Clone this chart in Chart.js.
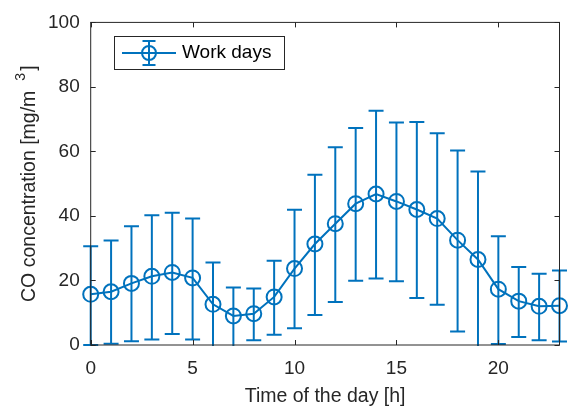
<!DOCTYPE html>
<html>
<head>
<meta charset="utf-8">
<script src="https://cdn.jsdelivr.net/npm/chart.js@4.4.1/dist/chart.umd.min.js"></script>
<style>
  html, body { margin: 0; padding: 0; background: #fff; }
  #grafico { display: block; }
</style>
</head>
<body>
<canvas id="grafico" width="569" height="416"></canvas>
<script>
// hora del dia y concentracion media de CO (dias laborables) con limites de la barra de error
const horas = [0, 1, 2, 3, 4, 5, 6, 7, 8, 9, 10, 11, 12, 13, 14, 15, 16, 17, 18, 19, 20, 21, 22, 23];
const mediaCO = [15.7, 16.5, 19.1, 21.3, 22.5, 20.8, 12.6, 9.0, 9.7, 14.9, 23.7, 31.3,
                 37.6, 43.8, 46.8, 44.5, 42.0, 39.2, 32.5, 26.5, 17.3, 13.6, 12.0, 12.2];
const limSup = [30.6, 32.4, 36.8, 40.2, 41.0, 39.2, 25.6, 17.8, 17.5, 26.1, 41.9, 52.8,
                61.3, 67.3, 72.6, 69.0, 69.1, 65.6, 60.3, 53.8, 33.7, 24.2, 22.1, 23.1];
const limInf = [0.0, 0.4, 1.2, 1.7, 3.4, 1.7, -0.6, -1.5, 1.5, 3.2, 5.2, 9.3,
                13.3, 19.9, 20.6, 19.8, 14.6, 12.5, 4.2, -0.8, 0.3, 2.5, 1.5, 1.1];
const ticksX = [0, 5, 10, 15, 20];
const ticksY = [0, 20, 40, 60, 80, 100];

const AZUL = '#0072BD';
const GRIS = '#262626';
const FUENTE = '"Liberation Sans", Arial, Helvetica, sans-serif';
const TAM = 19;       // etiquetas de marcas y leyenda
const TAM_TIT = 19.5; // titulos de ejes

// barras de error verticales con tapas
const barrasError = {
    id: 'barrasError',
    beforeDatasetsDraw(chart) {
        const { ctx, chartArea: a, scales: { x, y } } = chart;
        ctx.save();
        ctx.beginPath();
        ctx.rect(a.left - 10, a.top - 10, a.right - a.left + 20, a.bottom - a.top + 11);
        ctx.clip();
        ctx.strokeStyle = AZUL;
        ctx.lineWidth = 2;
        horas.forEach((h, i) => {
            const px = x.getPixelForValue(h);
            const y1 = y.getPixelForValue(limSup[i]);
            const y2 = y.getPixelForValue(limInf[i]);
            ctx.beginPath();
            ctx.moveTo(px, y1); ctx.lineTo(px, y2);
            ctx.moveTo(px - 7.5, y1); ctx.lineTo(px + 7.5, y1);
            ctx.moveTo(px - 7.5, y2); ctx.lineTo(px + 7.5, y2);
            ctx.stroke();
        });
        ctx.restore();
    }
};

// marco de los ejes, marcas hacia dentro, titulos y leyenda
const marco = {
    id: 'marco',
    afterDraw(chart) {
        const { ctx, chartArea: a, scales: { x, y } } = chart;
        ctx.save();
        ctx.strokeStyle = GRIS;
        ctx.lineWidth = 1;
        ctx.strokeRect(a.left, a.top, a.right - a.left, a.bottom - a.top);
        ctx.beginPath();
        x.ticks.forEach(t => {
            const px = Math.round(x.getPixelForValue(t.value)) + 0.5;
            ctx.moveTo(px, a.bottom); ctx.lineTo(px, a.bottom - 5);
            ctx.moveTo(px, a.top); ctx.lineTo(px, a.top + 5);
        });
        y.ticks.forEach(t => {
            const py = Math.round(y.getPixelForValue(t.value)) + 0.5;
            ctx.moveTo(a.left, py); ctx.lineTo(a.left + 5, py);
            ctx.moveTo(a.right, py); ctx.lineTo(a.right - 5, py);
        });
        ctx.stroke();

        // titulo eje x
        ctx.fillStyle = GRIS;
        ctx.font = TAM_TIT + 'px ' + FUENTE;
        ctx.textAlign = 'center';
        ctx.textBaseline = 'middle';
        ctx.fillText('Time of the day [h]', (a.left + a.right) / 2, 397);

        // titulo eje y con superindice
        const base = 'CO concentration [mg/m';
        const hueco1 = 10, hueco2 = 2;
        const tamSup = Math.round(TAM_TIT * 0.72);
        ctx.translate(28, (a.top + a.bottom) / 2);
        ctx.rotate(-Math.PI / 2);
        ctx.font = TAM_TIT + 'px ' + FUENTE;
        const wBase = ctx.measureText(base).width;
        const wCierre = ctx.measureText(']').width;
        ctx.font = tamSup + 'px ' + FUENTE;
        const wSup = ctx.measureText('3').width;
        let cx = -(wBase + hueco1 + wSup + hueco2 + wCierre) / 2;
        ctx.textAlign = 'left';
        ctx.textBaseline = 'alphabetic';
        ctx.font = TAM_TIT + 'px ' + FUENTE;
        ctx.fillText(base, cx, 7);
        cx += wBase + hueco1;
        ctx.font = tamSup + 'px ' + FUENTE;
        ctx.fillText('3', cx, -3);
        cx += wSup + hueco2;
        ctx.font = TAM_TIT + 'px ' + FUENTE;
        ctx.fillText(']', cx, 7);
        ctx.restore();

        // leyenda
        const ds = chart.data.datasets[0];
        ctx.save();
        ctx.fillStyle = '#fff';
        ctx.fillRect(114, 36, 170, 33);
        ctx.strokeStyle = GRIS;
        ctx.lineWidth = 1;
        ctx.strokeRect(114.5, 36.5, 170, 33);
        const ly = 53;
        ctx.strokeStyle = AZUL;
        ctx.lineWidth = 2;
        ctx.beginPath();
        ctx.moveTo(122, ly); ctx.lineTo(176, ly);
        ctx.moveTo(149, ly - 12); ctx.lineTo(149, ly + 12);
        ctx.moveTo(142.5, ly - 12); ctx.lineTo(155.5, ly - 12);
        ctx.moveTo(142.5, ly + 12); ctx.lineTo(155.5, ly + 12);
        ctx.stroke();
        ctx.beginPath();
        ctx.arc(149, ly, 7, 0, Math.PI * 2);
        ctx.stroke();
        ctx.fillStyle = '#000';
        ctx.font = TAM + 'px ' + FUENTE;
        ctx.textAlign = 'left';
        ctx.textBaseline = 'middle';
        ctx.fillText(ds.label, 182, ly);
        ctx.restore();
    }
};

const fijarTicks = (valores) => (scale) => {
    scale.ticks = valores.map(v => ({ value: v }));
};

new Chart(document.getElementById('grafico'), {
    type: 'line',
    data: {
        datasets: [{
            label: 'Work days',
            data: horas.map((h, i) => ({ x: h, y: mediaCO[i] })),
            borderColor: AZUL,
            borderWidth: 2,
            pointStyle: 'circle',
            pointRadius: 7.5,
            pointBorderWidth: 2,
            pointBorderColor: AZUL,
            pointBackgroundColor: 'rgba(0,0,0,0)',
            tension: 0,
            clip: false
        }]
    },
    options: {
        responsive: false,
        animation: false,
        events: [],
        layout: { padding: { top: 12, right: 8.3, left: 0, bottom: 0 } },
        plugins: { legend: { display: false }, tooltip: { enabled: false } },
        scales: {
            x: {
                type: 'linear', min: 0, max: 23,
                grid: { display: false, drawTicks: false },
                border: { display: false },
                afterBuildTicks: fijarTicks(ticksX),
                afterFit: (s) => { s.height = 71; },
                ticks: { color: GRIS, font: { family: FUENTE, size: TAM }, padding: 12, maxRotation: 0 }
            },
            y: {
                type: 'linear', min: 0, max: 100,
                grid: { display: false, drawTicks: false },
                border: { display: false },
                afterBuildTicks: fijarTicks(ticksY),
                afterFit: (s) => { s.width = 90.7; },
                ticks: { color: GRIS, font: { family: FUENTE, size: TAM }, padding: 11 }
            }
        }
    },
    plugins: [barrasError, marco]
});
</script>
</body>
</html>
